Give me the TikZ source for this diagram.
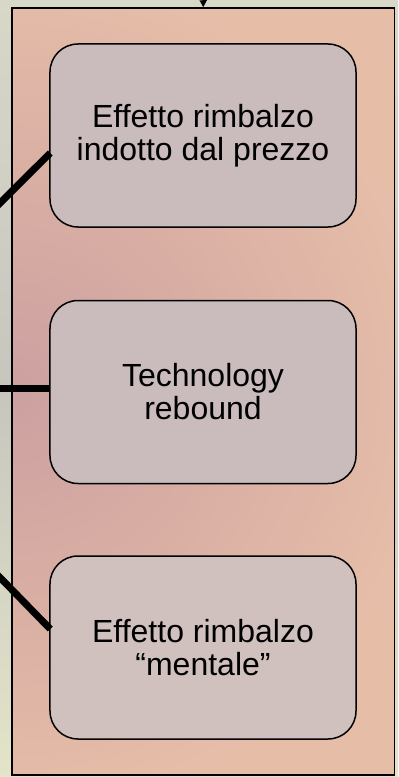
\documentclass[tikz,border=0pt]{standalone}
\usepackage{fontspec}
\setmainfont{Liberation Sans}
\usetikzlibrary{arrows.meta,calc}
\definecolor{bgtop}{RGB}{216,216,200}
\definecolor{bgmid}{RGB}{198,198,190}
\definecolor{bgbot}{RGB}{228,228,202}
\definecolor{frameleft}{RGB}{204,160,160}
\definecolor{frameright}{RGB}{230,190,168}
\definecolor{boxfill}{RGB}{202,187,189}
\definecolor{boxfillb}{RGB}{208,193,190}
\tikzset{
  framebox/.style={draw=black, line width=1.5bp},
  stage/.style={draw=black, line width=1.5bp, rounded corners=28bp,
    minimum width=306bp, minimum height=183bp, inner sep=0pt,
    align=center, font=\fontsize{32bp}{33bp}\selectfont, text=black},
  link/.style={line width=7bp, line cap=butt, black},
}
\begin{document}
\begin{tikzpicture}[x=1bp,y=-1bp]
\useasboundingbox (0,0) rectangle (398,777);
% background
\shade[top color=bgtop, bottom color=bgmid] (0,0) rectangle (398,390);
\shade[top color=bgmid, bottom color=bgbot] (0,389) rectangle (398,777);
% outer frame fill
\begin{scope}
  \clip (12,8) rectangle (394.5,775);
  \fill[frameright] (12,8) rectangle (394.5,775);
  \shade[inner color=frameleft, outer color=frameright] (12,390) circle (430);
\end{scope}
\node[framebox, minimum width=382.5bp, minimum height=767bp, inner sep=0pt] (outer) at (203.25,391.5) {};
% arrow from above
\coordinate (top) at (203,-20);
\draw[line width=1.5bp, -{Triangle[width=7bp,length=7bp]}] (top) -- (outer.north);
% boxes
\node[stage, fill=boxfill] (b1) at (203,135.5) {Effetto rimbalzo\\indotto dal prezzo};
\node[stage, fill=boxfill] (b2) at (203,392) {Technology\\rebound};
\node[stage, fill=boxfillb] (b3) at (203,647.5) {Effetto rimbalzo\\“mentale”};
% connectors from the left
\coordinate (s1) at (-20,223);
\coordinate (s2) at (-20,388);
\coordinate (s3) at (-20,557);
\draw[link] (s1) -- ($(b1.west)+(1,17.5)$);
\draw[link] (s2) -- ($(b2.west)+(1,-4)$);
\draw[link] (s3) -- ($(b3.west)+(1,-18.5)$);
\end{tikzpicture}
\end{document}
